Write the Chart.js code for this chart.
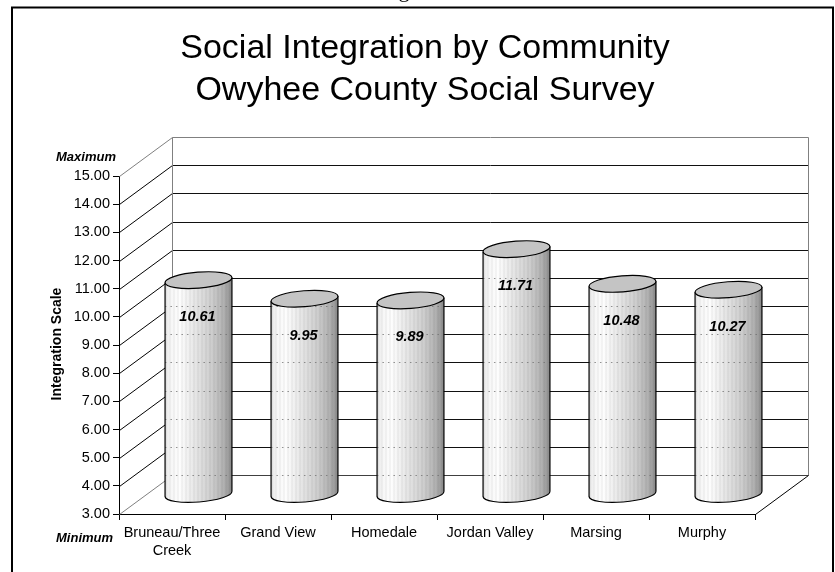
<!DOCTYPE html>
<html>
<head>
<meta charset="utf-8">
<script src="https://cdn.jsdelivr.net/npm/chart.js@4/dist/chart.umd.min.js"></script>
<style>
  html, body { margin: 0; padding: 0; background: #fff; }
  canvas { display: block; }
</style>
</head>
<body>
<canvas id="chart" width="835" height="572"></canvas>
<script>
// Survey results: mean integration score per community
const communities = [['Bruneau/Three', 'Creek'], 'Grand View', 'Homedale', 'Jordan Valley', 'Marsing', 'Murphy'];
const integrationScores = [10.61, 9.95, 9.89, 11.71, 10.48, 10.27];
const scaleMin = 3;
const scaleMax = 15;
const scaleStep = 1;
const titleLines = ['Social Integration by Community', 'Owyhee County Social Survey'];
const axisTitle = 'Integration Scale';
const maxLabel = 'Maximum';
const minLabel = 'Minimum';

const FONT = "'Liberation Sans', Arial, Helvetica, sans-serif";
// oblique depth of the 3-D box (back wall offset from the front plane)
const DX = 53;
const DY = 39;
const TILT = -4.5 * Math.PI / 180;

const box3d = {
  id: 'box3d',
  beforeDraw(chart) {
    const ctx = chart.ctx;
    ctx.save();
    ctx.fillStyle = '#fff';
    ctx.fillRect(0, 0, chart.width, chart.height);
    // page frame around the figure
    ctx.strokeStyle = '#000';
    ctx.lineWidth = 2;
    ctx.beginPath();
    ctx.moveTo(12, chart.height + 2);
    ctx.lineTo(12, 7.5);
    ctx.lineTo(833, 7.5);
    ctx.lineTo(833, chart.height + 2);
    ctx.stroke();
    // tail of the caption line above the frame
    ctx.fillStyle = '#000';
    ctx.font = "22px 'Liberation Serif', 'Times New Roman', serif";
    ctx.textAlign = 'center';
    ctx.textBaseline = 'alphabetic';
    ctx.fillText('g', 404, -3);
    ctx.restore();
  },
  beforeDatasetsDraw(chart) {
    const ctx = chart.ctx;
    const { left, right, top, bottom } = chart.chartArea;
    const y = chart.scales.y;
    ctx.save();
    ctx.lineWidth = 1;
    const L = Math.round(left) + 0.5;
    const R = Math.round(right) + 0.5;
    // side wall diagonals and back wall gridlines
    y.ticks.forEach(t => {
      const v = t.value;
      const yf = Math.round(y.getPixelForValue(v)) + 0.5;
      const yb = yf - DY;
      ctx.strokeStyle = (v === scaleMax || v === scaleMin) ? '#808080' : '#000';
      ctx.beginPath();
      ctx.moveTo(L, yf);
      ctx.lineTo(L + DX, yb);
      ctx.stroke();
      ctx.strokeStyle = v === scaleMax ? '#808080' : (v === scaleMin ? '#404040' : '#111');
      ctx.beginPath();
      ctx.moveTo(L + DX, yb);
      ctx.lineTo(R + DX, yb);
      ctx.stroke();
    });
    const yTop = Math.round(top) + 0.5 - DY;
    const yBot = Math.round(bottom) + 0.5 - DY;
    ctx.strokeStyle = '#808080';
    ctx.beginPath();
    ctx.moveTo(L + DX, yTop); ctx.lineTo(L + DX, yBot);
    ctx.moveTo(R + DX, yTop); ctx.lineTo(R + DX, yBot);
    ctx.stroke();
    // floor edge on the right
    ctx.strokeStyle = '#000';
    ctx.beginPath();
    ctx.moveTo(R, Math.round(bottom) + 0.5);
    ctx.lineTo(R + DX, yBot);
    ctx.stroke();
    ctx.restore();
  },
  afterDatasetsDraw(chart) {
    const ctx = chart.ctx;
    const y = chart.scales.y;
    const meta = chart.getDatasetMeta(0);
    const values = chart.data.datasets[0].data;
    meta.data.forEach((bar, i) => {
      const cx = bar.x + DX / 2;
      const topY = bar.y - DY / 2;
      const baseY = bar.base - DY / 2;
      const rx = bar.width / 2;
      const ry = 8;
      const ex = rx * Math.cos(TILT);
      const ey = rx * Math.sin(TILT);

      const body = new Path2D();
      body.moveTo(cx + ex, topY + ey);
      body.lineTo(cx + ex, baseY + ey);
      body.ellipse(cx, baseY, rx, ry, TILT, 0, Math.PI, false);
      body.lineTo(cx - ex, topY - ey);
      body.closePath();

      ctx.save();
      const g = ctx.createLinearGradient(cx - rx, 0, cx + rx, 0);
      g.addColorStop(0, '#e4e4e4');
      g.addColorStop(0.08, '#f6f6f6');
      g.addColorStop(0.22, '#fdfdfd');
      g.addColorStop(0.45, '#e6e6e6');
      g.addColorStop(0.7, '#cdcdcd');
      g.addColorStop(0.88, '#b0b0b0');
      g.addColorStop(1, '#8c8c8c');
      ctx.fillStyle = g;
      ctx.fill(body);
      ctx.clip(body);
      // shading bands
      for (let x = cx - rx; x < cx + rx; x += 4) {
        ctx.fillStyle = 'rgba(0,0,0,0.035)';
        ctx.fillRect(Math.round(x), topY - 20, 2, baseY - topY + 40);
      }
      // back wall gridlines seen through the cylinder
      ctx.strokeStyle = 'rgba(110,110,110,0.75)';
      ctx.lineWidth = 1;
      ctx.setLineDash([1.5, 4]);
      y.ticks.forEach(t => {
        const yy = Math.round(y.getPixelForValue(t.value)) + 0.5 - DY;
        ctx.beginPath();
        ctx.moveTo(cx - rx, yy);
        ctx.lineTo(cx + rx, yy);
        ctx.stroke();
      });
      ctx.restore();

      // outline of sides and bottom
      ctx.save();
      ctx.strokeStyle = '#000';
      ctx.lineWidth = 1.2;
      ctx.beginPath();
      ctx.moveTo(cx + ex, topY + ey);
      ctx.lineTo(cx + ex, baseY + ey);
      ctx.ellipse(cx, baseY, rx, ry, TILT, 0, Math.PI, false);
      ctx.lineTo(cx - ex, topY - ey);
      ctx.stroke();
      // top cap
      ctx.beginPath();
      ctx.ellipse(cx, topY, rx, ry, TILT, 0, Math.PI * 2);
      ctx.fillStyle = '#c4c4c4';
      ctx.fill();
      ctx.stroke();

      // value label
      ctx.fillStyle = '#000';
      ctx.font = 'italic bold 14.5px ' + FONT;
      ctx.textAlign = 'center';
      ctx.textBaseline = 'middle';
      ctx.fillText(Number(values[i]).toFixed(2), cx - 1, topY + 37);
      ctx.restore();
    });
  },
  afterDraw(chart) {
    const ctx = chart.ctx;
    ctx.save();
    ctx.fillStyle = '#000';
    ctx.textBaseline = 'middle';
    ctx.textAlign = 'left';
    ctx.font = 'italic bold 13px ' + FONT;
    ctx.fillText(maxLabel, 56, 157);
    ctx.fillText(minLabel, 56, 538);
    ctx.translate(57, 344);
    ctx.rotate(-Math.PI / 2);
    ctx.textAlign = 'center';
    ctx.font = 'bold 14px ' + FONT;
    ctx.fillText(axisTitle, 0, 0);
    ctx.restore();
  }
};

new Chart(document.getElementById('chart'), {
  type: 'bar',
  data: {
    labels: communities,
    datasets: [{
      data: integrationScores,
      base: scaleMin,
      backgroundColor: 'rgba(0,0,0,0)',
      borderWidth: 0,
      categoryPercentage: 1,
      barPercentage: 0.633
    }]
  },
  options: {
    responsive: false,
    animation: false,
    devicePixelRatio: 1,
    layout: { padding: { left: 70, right: 55, top: 0, bottom: 0 } },
    plugins: {
      legend: { display: false },
      tooltip: { enabled: false },
      title: {
        display: true,
        text: titleLines,
        color: '#000',
        font: { family: FONT, size: 34, weight: 'normal', lineHeight: '42px' },
        padding: { top: 28, bottom: 64 }
      }
    },
    scales: {
      x: {
        grid: { display: true, drawOnChartArea: false, drawTicks: true, tickLength: 6, color: '#000', offset: true },
        border: { display: true, color: '#000', width: 1 },
        ticks: {
          color: '#000',
          font: { family: FONT, size: 14.5, lineHeight: '18px' },
          padding: 4,
          maxRotation: 0,
          minRotation: 0,
          autoSkip: false
        },
        afterFit(scale) { scale.height = 58; }
      },
      y: {
        min: scaleMin,
        max: scaleMax,
        grid: { display: true, drawOnChartArea: false, drawTicks: true, tickLength: 6, color: '#000' },
        border: { display: true, color: '#000', width: 1 },
        ticks: {
          stepSize: scaleStep,
          color: '#000',
          font: { family: FONT, size: 14.5 },
          padding: 3,
          callback: v => Number(v).toFixed(2)
        },
        afterFit(scale) { scale.width = 49; }
      },
      // room for the receding floor and back wall on the right
      depth: {
        type: 'linear',
        position: 'right',
        display: true,
        grid: { display: false },
        border: { display: false },
        ticks: { display: false },
        afterFit(scale) { scale.width = 25; }
      }
    }
  },
  plugins: [box3d]
});
</script>
</body>
</html>
